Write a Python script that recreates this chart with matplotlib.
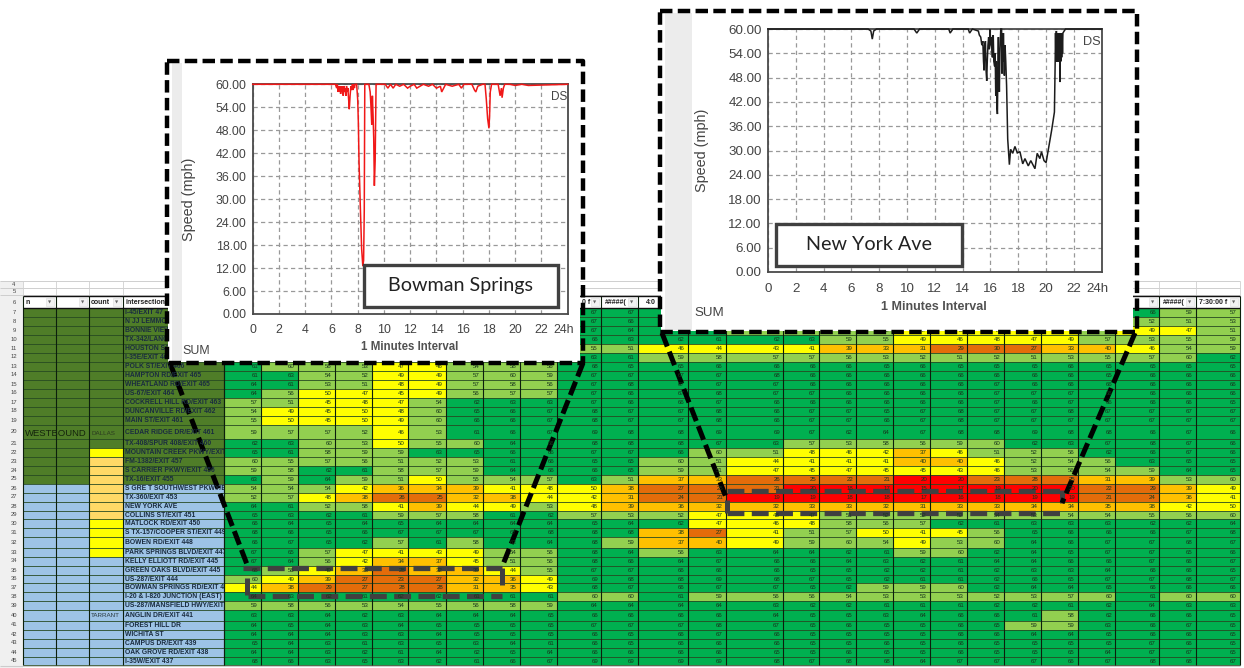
import numpy as np
import matplotlib
matplotlib.use('Agg')
import matplotlib.pyplot as plt
from matplotlib.colors import ListedColormap, BoundaryNorm
from matplotlib.patches import Rectangle
from matplotlib.transforms import ScaledTranslation

plt.rcParams['font.family'] = ['Liberation Sans', 'DejaVu Sans']

W, H = 1244, 668

# speeds per spreadsheet row, None = cell hidden behind the inset charts
hid = [None] * 9
mid = [None] * 11
r07 = hid + [67, 67, 66] + mid + [66, 59, 57]
r08 = hid + [67, 66, 65] + mid + [52, 51, 53]
r09 = hid + [67, 64, 65, 61, 60, 58, 56, 52, 47, 46, 47, 47, 49, 55, 49, 47, 51]
r10 = hid + [66, 63, 62, 61, 62, 63, 59, 55, 49, 46, 48, 47, 49, 57, 53, 55, 59]
r11 = hid + [55, 51, 46, 44, 43, 41, 39, 33, 31, 29, 30, 27, 33, 40, 46, 54, 59]
r12 = hid + [63, 61, 59, 58, 57, 57, 56, 53, 52, 51, 52, 51, 53, 55, 57, 60, 62]
r13 = [61, 60, 56, 53, 47, 46, 54, 58, 56, 68, 65, 65, 66, 66, 66, 66, 65, 66, 65, 65, 65, 66, 65, 65, 65, 65]
r14 = [61, 63, 54, 52, 49, 49, 57, 60, 59, 67, 67, 67, 67, 68, 66, 66, 66, 66, 66, 66, 66, 66, 65, 66, 66, 66]
r15 = [64, 61, 53, 51, 48, 49, 57, 58, 56, 67, 68, 67, 67, 67, 66, 66, 66, 66, 66, 67, 66, 66, 66, 66, 66, 66]
r16 = [64, 56, 50, 47, 45, 49, 56, 57, 57, 67, 66, 67, 68, 67, 67, 66, 66, 66, 66, 67, 67, 67, 66, 66, 66, 66]
r17 = [57, 51, 45, 48, 47, 54, 62, 63, 63, 67, 66, 66, 67, 66, 66, 66, 66, 66, 66, 67, 66, 67, 66, 66, 66, 65]
r18 = [54, 49, 45, 50, 48, 60, 65, 66, 67, 68, 67, 67, 68, 66, 67, 67, 65, 67, 68, 67, 67, 68, 67, 67, 67, 67]
r19 = [55, 50, 45, 50, 49, 60, 66, 66, 67, 68, 67, 67, 68, 66, 67, 67, 66, 67, 68, 67, 67, 67, 67, 67, 67, 67]
r20 = [59, 57, 57, 52, 46, 53, 61, 66, 67, 69, 68, 68, 69, 69, 67, 62, 64, 67, 68, 68, 69, 68, 68, 66, 67, 66]
r21 = [62, 63, 60, 53, 50, 55, 60, 64, 66, 68, 68, 68, 67, 63, 57, 53, 58, 56, 59, 60, 62, 63, 67, 68, 67, 66]
r22 = [65, 61, 58, 59, 59, 63, 65, 66, 66, 67, 67, 66, 60, 51, 48, 46, 42, 37, 46, 51, 52, 56, 62, 66, 67, 66]
r23 = [60, 55, 57, 56, 51, 52, 53, 61, 66, 65, 65, 60, 51, 44, 41, 41, 41, 40, 40, 46, 52, 54, 56, 63, 65, 65]
r24 = [59, 58, 62, 61, 58, 57, 59, 64, 66, 66, 65, 59, 51, 47, 45, 47, 45, 45, 43, 46, 53, 56, 54, 59, 64, 65]
r25 = [63, 59, 64, 59, 51, 50, 55, 54, 57, 63, 51, 37, 33, 26, 25, 22, 21, 20, 20, 23, 28, 25, 31, 39, 53, 60]
r26 = [54, 54, 54, 42, 36, 34, 39, 41, 48, 50, 38, 27, 25, 21, 20, 18, 17, 15, 17, 19, 20, 20, 22, 29, 39, 49]
r27 = [52, 57, 48, 38, 26, 25, 32, 38, 44, 42, 31, 24, 21, 19, 19, 18, 18, 17, 16, 18, 19, 19, 21, 24, 36, 41]
r28 = [64, 61, 52, 58, 41, 39, 44, 49, 53, 48, 39, 36, 32, 32, 33, 33, 32, 31, 33, 33, 34, 34, 35, 38, 42, 50]
r29 = [65, 63, 62, 61, 59, 57, 58, 61, 62, 57, 53, 52, 47, 48, 47, 51, 52, 52, 52, 54, 53, 54, 54, 55, 56, 60]
r30 = [66, 64, 65, 64, 65, 64, 64, 64, 64, 65, 64, 62, 47, 46, 48, 58, 56, 57, 62, 61, 63, 63, 63, 62, 62, 64]
r31 = [68, 66, 65, 66, 67, 67, 67, 67, 68, 68, 68, 38, 27, 41, 51, 57, 50, 41, 45, 56, 65, 66, 66, 66, 67, 68]
r32 = [66, 67, 65, 62, 57, 61, 58, 63, 64, 68, 59, 37, 40, 49, 59, 60, 54, 49, 53, 60, 64, 66, 67, 67, 68, 67]
r33 = [67, 65, 57, 47, 41, 43, 49, 54, 56, 68, 64, 56, 63, 64, 64, 62, 61, 59, 60, 62, 64, 65, 67, 67, 65, 66]
r34 = [67, 64, 56, 42, 34, 37, 45, 51, 56, 68, 66, 64, 67, 66, 66, 64, 63, 62, 61, 64, 64, 66, 66, 67, 66, 67]
r35 = [66, 56, 49, 33, 28, 32, 39, 44, 55, 67, 67, 66, 66, 66, 65, 65, 62, 62, 61, 62, 63, 63, 64, 66, 66, 65]
r36 = [60, 49, 39, 27, 23, 27, 32, 36, 49, 69, 68, 68, 69, 68, 67, 65, 62, 61, 61, 62, 66, 65, 67, 67, 68, 67]
r37 = [44, 38, 29, 27, 28, 28, 31, 35, 43, 68, 67, 66, 67, 67, 65, 62, 59, 59, 60, 62, 64, 64, 65, 66, 66, 66]
r38 = [64, 63, 62, 61, 62, 62, 61, 61, 61, 60, 60, 61, 59, 56, 56, 54, 53, 53, 53, 52, 53, 57, 60, 61, 60, 60]
r39 = [59, 58, 56, 53, 54, 55, 56, 58, 59, 64, 64, 64, 64, 63, 62, 62, 61, 61, 61, 62, 62, 61, 62, 64, 63, 63]
r40 = [63, 63, 64, 62, 63, 64, 64, 64, 65, 66, 66, 66, 66, 64, 65, 65, 63, 64, 66, 66, 61, 58, 62, 66, 66, 65]
r41 = [64, 65, 64, 63, 64, 65, 65, 65, 65, 67, 67, 67, 68, 67, 65, 66, 65, 65, 66, 65, 59, 59, 63, 66, 67, 65]
r42 = [64, 64, 64, 63, 63, 64, 65, 65, 65, 66, 65, 66, 67, 66, 65, 65, 65, 65, 66, 66, 64, 64, 65, 66, 66, 65]
r43 = [65, 64, 63, 61, 63, 65, 63, 64, 61, 66, 65, 66, 66, 66, 65, 65, 66, 65, 66, 65, 65, 65, 65, 67, 66, 65]
r44 = [64, 64, 63, 62, 61, 64, 62, 65, 64, 66, 66, 66, 66, 65, 65, 66, 65, 65, 66, 65, 65, 65, 64, 67, 67, 65]
r45 = [68, 66, 63, 65, 63, 62, 61, 66, 67, 69, 69, 69, 69, 68, 67, 68, 68, 64, 67, 67, 67, 66, 67, 68, 68, 67]
speeds = np.array([r07, r08, r09, r10, r11, r12, r13, r14, r15, r16, r17, r18, r19, r20, r21, r22, r23,
                   r24, r25, r26, r27, r28, r29, r30, r31, r32, r33, r34, r35, r36, r37, r38, r39, r40,
                   r41, r42, r43, r44, r45], dtype=float)

row_numbers = list(range(7, 46))
intersections = ['I-45/EXIT 47', 'N JJ LEMMON RD', 'BONNIE VIEW RD', 'TX-342/LANCASTER RD', 'HOUSTON SCHOOL RD',
                 'I-35E/EXIT 467', 'POLK ST/EXIT 466', 'HAMPTON RD/EXIT 465', 'WHEATLAND RD/EXIT 465',
                 'US-67/EXIT 464', 'COCKRELL HILL RD/EXIT 463', 'DUNCANVILLE RD/EXIT 462', 'MAIN ST/EXIT 461',
                 'CEDAR RIDGE DR/EXIT 461', 'TX-408/SPUR 408/EXIT 460', 'MOUNTAIN CREEK PKWY/EXIT 458',
                 'FM-1382/EXIT 457', 'S CARRIER PKWY/EXIT 456', 'TX-16/EXIT 455', 'S GRE T SOUTHWEST PKWY/EXIT 454',
                 'TX-360/EXIT 453', 'NEW YORK AVE', 'COLLINS ST/EXIT 451', 'MATLOCK RD/EXIT 450',
                 'S TX-157/COOPER ST/EXIT 449', 'BOWEN RD/EXIT 448', 'PARK SPRINGS BLVD/EXIT 447',
                 'KELLY ELLIOTT RD/EXIT 445', 'GREEN OAKS BLVD/EXIT 445', 'US-287/EXIT 444',
                 'BOWMAN SPRINGS RD/EXIT 443', 'I-20 & I-820 JUNCTION (EAST)', 'US-287/MANSFIELD HWY/EXIT 442',
                 'ANGLIN DR/EXIT 441', 'FOREST HILL DR', 'WICHITA ST', 'CAMPUS DR/EXIT 439', 'OAK GROVE RD/EXIT 438',
                 'I-35W/EXIT 437']
count_flags = ['n'] * 15 + ['y'] + ['o'] * 7 + ['y'] * 4 + ['b'] * 12

# speed traces
bowman_hours = [0, 3, 5.8,
                6.3, 6.4, 6.45, 6.5, 6.55, 6.6, 6.65, 6.7, 6.75, 6.8, 6.85, 6.9, 6.95, 7.0, 7.05,
                7.1, 7.15, 7.2, 7.25, 7.3, 7.36, 7.42, 7.48, 7.55, 7.6, 7.65, 7.7, 7.75, 7.8, 7.92,
                8.0, 8.05, 8.1, 8.2, 8.3, 8.39, 8.45, 8.5, 8.54, 8.6, 8.7, 8.85, 8.95, 9.0, 9.07, 9.12, 9.17, 9.22,
                9.27, 9.33, 9.4, 9.5, 10.1, 10.3, 10.5, 10.7, 10.9, 11.2, 11.5, 11.8, 12.0, 12.3, 12.5, 13.0, 13.4,
                13.7, 14.0, 14.3, 14.4, 14.7, 15.2, 15.7, 15.9, 16.1, 16.7, 16.9, 17.0, 17.15, 17.5, 17.7, 17.8,
                17.9, 18.0, 18.05, 18.1, 18.2, 18.7, 18.85, 18.95, 19.0, 19.1, 19.2, 19.6, 20.0, 20.5, 21.0, 24]
bowman_speed = [60, 60, 60,
                60, 59, 60, 58, 59.5, 58, 59.5, 57.5, 59.5, 58, 59.5, 57, 59.5, 58, 59,
                57, 59.5, 58, 59, 56.5, 53.5, 57, 59.5, 58.5, 60, 58.5, 60, 59, 60, 60,
                56, 50, 40, 28, 17, 12.5, 14, 27, 60, 60, 60, 60, 58, 55, 49.5, 57, 52, 46,
                33.5, 40, 60, 60, 60, 59, 60, 59, 60, 59.5, 60, 59, 59.5, 60, 59, 60, 59.5,
                60, 59, 59.5, 58, 60, 59.5, 60, 59, 60, 60, 58.5, 58, 59.5, 60, 60, 56,
                51, 48.5, 52, 58, 60, 60, 57, 59, 56.5, 59, 60, 60, 59.7, 60, 59.7, 60]

ny_hours = [0, 5, 7.2, 7.4, 7.5, 7.6, 7.8, 10.5, 10.7, 10.9, 13, 13.1, 13.3, 14.4, 14.5, 14.7,
            15.13, 15.2, 15.3, 15.38, 15.45, 15.5, 15.54, 15.58, 15.64, 15.68, 15.73, 15.77, 15.82, 15.87, 15.92,
            15.97, 16.02, 16.06, 16.1, 16.14, 16.2, 16.24, 16.3, 16.34, 16.38, 16.42, 16.46, 16.5, 16.54, 16.57,
            16.6, 16.64, 16.68, 16.74, 16.8, 16.83, 16.87, 16.9, 16.93, 16.97, 17.0, 17.05, 17.1, 17.16, 17.24,
            17.36, 17.45, 17.6, 17.76, 17.93, 18.12, 18.32, 18.48, 18.72, 18.9,
            19.2, 19.36, 19.55, 19.67, 19.85, 20.0, 20.2, 20.4, 20.6,
            20.65, 20.68, 20.71, 20.74, 20.77, 20.8, 20.83, 20.86, 20.89, 20.92, 20.95, 20.98, 21.0, 21.03,
            21.06, 21.09, 21.12, 21.15, 21.18, 21.21, 21.3, 21.4, 24]
ny_speed = [60, 60, 60, 59.5, 57.5, 59.5, 60, 60, 59, 60, 60, 59, 60, 60, 59, 60,
            59.5, 58.5, 58, 56, 57, 52, 49.8, 56, 57, 50, 47.2, 52, 56, 58, 55,
            60, 56, 58, 55, 53, 58.5, 52, 50.8, 54, 43.5, 52, 41, 39, 52, 58,
            50, 44.5, 54, 60, 60, 49, 57, 52, 59, 52, 48.5, 56, 52, 46, 32.8,
            26.5, 30.3, 29.3, 31, 29.4, 29.7, 26.7, 28, 26.2, 27.5,
            25.5, 29.3, 28, 29.7, 27.5, 27, 31, 35, 39.5,
            51, 59, 52, 59.5, 52, 59, 52, 59, 52, 59, 52.5, 59, 46.9, 59,
            52, 59, 53, 59, 54, 59, 59.5, 60, 60]

hour_ticks = list(range(0, 25, 2))
hour_labels = [str(h) for h in hour_ticks[:-1]] + ['24h']
speed_ticks = list(range(0, 61, 6))

# layout in image pixels
col_edges = [224, 261, 298, 335, 372, 408, 446, 483, 520, 557, 601, 638, 688, 726, 783, 819, 856, 893, 930,
             967, 1004, 1041, 1078, 1115, 1159, 1196, 1240]
row_edges = [308, 317, 326, 335, 344, 352.5, 361.5, 370.5, 379.5, 388.5, 397.5, 406.5, 415.5, 424.5, 439, 448,
             457, 465.5, 474.5, 483.5, 492.5, 501.5, 510.5, 519, 528, 537, 547.5, 556.5, 565.5, 574.5, 583, 592,
             601, 610, 620.5, 629.5, 638.5, 647.5, 656.5, 665]
left_edges = [23, 56, 89, 123, 224]

fig = plt.figure(figsize=(W / 100, H / 100), dpi=100)
sheet = fig.add_axes([0, 0, 1, 1], zorder=1)
sheet.set_xlim(0, W)
sheet.set_ylim(H, 0)
sheet.axis('off')

# heat map cells
cmap = ListedColormap(['#ff0000', '#e46c0a', '#ffc000', '#ffff00', '#92d050', '#00b050'])
norm = BoundaryNorm([0, 20.5, 30.5, 40.5, 50.5, 60.5, 100], cmap.N)
sheet.pcolormesh(col_edges, row_edges, np.ma.masked_invalid(speeds), cmap=cmap, norm=norm)

# left hand block
olive = '#4f7d28'
blue = '#9dc3e6'
flag_colors = {'n': olive, 'y': '#ffff00', 'o': '#ffd966', 'b': blue}
for i, flag in enumerate(count_flags):
    y0, y1 = row_edges[i], row_edges[i + 1]
    base = olive if i < 19 else blue
    sheet.add_patch(Rectangle((23, y0), 201, y1 - y0, fc=base, ec='none'))
    sheet.add_patch(Rectangle((89, y0), 34, y1 - y0, fc=flag_colors[flag], ec='none'))

# row numbers column and the empty rows above the header
sheet.add_patch(Rectangle((0, 281), 23, 387, fc='#f0f0f0', ec='none'))
sheet.hlines([281, 288, 295], 0, 1240, color='#c8c8c8', lw=0.6)
sheet.vlines(left_edges + col_edges[-3:], 281, 295, color='#d0d0d0', lw=0.6)
sheet.hlines(row_edges, 23, 1240, color='#274a22', lw=0.6)
sheet.vlines(left_edges + col_edges, 296, 665, color='#0c1f0c', lw=0.8)
sheet.hlines([296, 308], 23, 1240, color='#111111', lw=1.0)
sheet.hlines(665.5, 0, 1240, color='#cccccc', lw=0.8)

for num, y0, y1 in zip(row_numbers, row_edges[:-1], row_edges[1:]):
    sheet.text(14, (y0 + y1) / 2, str(num), fontsize=4.2, ha='center', va='center', color='#444444')
sheet.text(14, 284.5, '4', fontsize=4.2, ha='center', va='center', color='#444444')
sheet.text(14, 291.5, '5', fontsize=4.2, ha='center', va='center', color='#444444')
sheet.text(14, 302, '6', fontsize=4.2, ha='center', va='center', color='#444444')

# header row with filter buttons
header_cells = [(25, 'n', 55), (58, '', 88), (91, 'count', 122), (125, 'intersection', None),
                (582, '0 f', 600), (605, '#####(', 637), (646, '4:0', None),
                (1122, '0 f', 1158), (1163, '#####(', 1195), (1199, '7:30:00 f', 1239)]
for x, label, btn in header_cells:
    sheet.text(x, 302, label, fontsize=5, fontweight='bold', ha='left', va='center', color='#222222')
    if btn is not None:
        sheet.add_patch(Rectangle((btn - 9, 298), 8, 8, fc='#f2f2f2', ec='#dddddd', lw=0.4))
        sheet.text(btn - 5, 302, '\u25bc', fontsize=3, ha='center', va='center', color='#666666',
                   family='DejaVu Sans')

# intersection names, clipped to their column
name_clip = Rectangle((123, 296), 101, 370, transform=sheet.transData)
for name, y0, y1 in zip(intersections, row_edges[:-1], row_edges[1:]):
    t = sheet.text(125, (y0 + y1) / 2 + 0.3, name, fontsize=4.9, fontweight='bold', ha='left', va='center',
                   color='#1a2c40', clip_on=True)
    t.set_clip_path(name_clip)

sheet.text(25, 433, 'WESTBOUND', fontsize=6.8, ha='left', va='center', color='#14240c')
sheet.text(91, 433.5, 'DALLAS', fontsize=4.5, ha='left', va='center', color='#2a3a20')
sheet.text(91, 615.5, 'TARRANT', fontsize=4.5, ha='left', va='center', color='#2a3a40')

# speed numbers, right aligned like in the sheet
for i in range(speeds.shape[0]):
    yc = (row_edges[i] + row_edges[i + 1]) / 2 + 0.3
    for j in range(speeds.shape[1]):
        if not np.isnan(speeds[i, j]):
            sheet.text(col_edges[j + 1] - 3, yc, f'{speeds[i, j]:.0f}', fontsize=4.4, ha='right', va='center',
                       color='#17351c')

# grey dashed boxes around the congested cells
grey_dash = dict(color='#404040', lw=3.8, linestyle=(0, (3.2, 1.4)), dash_capstyle='butt')
sheet.plot([243, 502], [568, 568], **grey_dash)
sheet.plot([248, 502], [595.5, 595.5], **grey_dash)
sheet.plot([246.7, 246.7], [578, 595], color='#404040', lw=3.6, solid_capstyle='butt')
sheet.plot([501.7, 501.7], [568, 585], color='#404040', lw=3.6, solid_capstyle='butt')
sheet.plot([727, 1062], [490.5, 490.5], **grey_dash)
sheet.plot([727, 1062], [513, 513], **grey_dash)
sheet.plot([727, 727], [500, 513], color='#404040', lw=3.6, solid_capstyle='butt')
sheet.plot([1062, 1062], [490, 503], color='#404040', lw=3.6, solid_capstyle='butt')

# black dashed connectors from the charts down to the table
black_dash = dict(color='black', lw=3.6, linestyle=(0, (2.9, 1.1)), dash_capstyle='butt')
sheet.plot([170, 248], [363, 567], **black_dash)
sheet.plot([583, 502], [363, 567], **black_dash)
sheet.plot([662, 727], [333, 500], **black_dash)
sheet.plot([1135, 1062], [333, 503], **black_dash)


def px_axes(x0, y0, x1, y1, z):
    return fig.add_axes([x0 / W, 1 - y1 / H, (x1 - x0) / W, (y1 - y0) / H], zorder=z)


def draw_panel(frame, box, strip, plot_box, hours, speed, color, fs, xpad, ylabel_x, ylabel_fs, xlabel_y, sum_xy,
               label, label_box, label_fs):
    # white card, grey strip and dashed frame in sheet pixels
    cover = px_axes(0, 0, W, H, 2)
    cover.set_xlim(0, W)
    cover.set_ylim(H, 0)
    cover.axis('off')
    cover.patch.set_alpha(0)
    cover.add_patch(Rectangle((box[0], box[1]), box[2] - box[0], box[3] - box[1], fc='white', ec='none'))
    cover.add_patch(Rectangle((strip[0], box[1] + 1), strip[1] - strip[0], box[3] - box[1] - 2, fc='#ececec', ec='none'))
    x0, y0, x1, y1 = frame
    cover.plot([x0, x1, x1, x0, x0], [y0, y0, y1, y1, y0], color='black', lw=3.2,
               linestyle=(0, (2.8, 1.2)), dash_capstyle='butt', solid_joinstyle='miter')
    cover.text(sum_xy[0], sum_xy[1], 'SUM', fontsize=fs, ha='left', va='center', color='#444444')
    cover.text(ylabel_x, (plot_box[1] + plot_box[3]) / 2, 'Speed (mph)', fontsize=ylabel_fs, rotation=90,
               ha='center', va='center', color='#444444')
    cover.text((plot_box[0] + plot_box[2]) / 2 - 1, xlabel_y, '1 Minutes Interval', fontsize=fs - 0.6, ha='center',
               va='center', color='#333333', fontweight='bold', alpha=0.85)

    ax = px_axes(*plot_box, 3)
    ax.set_xlim(0, 24)
    ax.set_ylim(0, 60)
    ax.set_xticks(hour_ticks)
    ax.set_xticklabels(hour_labels)
    ax.set_yticks(speed_ticks)
    ax.set_yticklabels([f'{v:.2f}' for v in speed_ticks])
    ax.tick_params(length=0, labelsize=fs, labelcolor='#444444')
    ax.tick_params(axis='x', pad=xpad)
    ax.tick_params(axis='y', pad=4.5)
    last = ax.get_xticklabels()[-1]
    last.set_transform(last.get_transform() + ScaledTranslation(-0.04, 0, fig.dpi_scale_trans))
    ax.grid(True, color='#999999', lw=0.9, linestyle=(0, (3.4, 2.6)))
    ax.set_axisbelow(True)
    for side in ax.spines.values():
        side.set_color('#4a4a4a')
        side.set_linewidth(1.3)
    ax.plot(hours, speed, color=color, lw=1.1, clip_on=False, solid_joinstyle='miter', zorder=3)
    ax.text(23.95, 58.2, 'DS', fontsize=fs - 0.4, ha='right', va='top', color='#444444')

    # label box over the plot
    over = px_axes(0, 0, W, H, 4)
    over.set_xlim(0, W)
    over.set_ylim(H, 0)
    over.axis('off')
    over.patch.set_alpha(0)
    lx0, ly0, lx1, ly1 = label_box
    over.add_patch(Rectangle((lx0, ly0), lx1 - lx0, ly1 - ly0, fc='white', ec='#404040', lw=2.4))
    over.text((lx0 + lx1) / 2, (ly0 + ly1) / 2 - 0.5, label, fontsize=label_fs, ha='center', va='center',
              color='#222222', family='Lato')


draw_panel(frame=(167, 61, 583, 363), box=(168, 62, 580, 362), strip=(172, 182), plot_box=(252.7, 84.3, 567.7, 314),
           hours=bowman_hours, speed=bowman_speed, color='#f01818', fs=8.9, xpad=7, ylabel_x=189, ylabel_fs=10.4,
           xlabel_y=347, sum_xy=(182, 351.5), label='Bowman Springs', label_box=(364, 265, 558, 307), label_fs=14.2)
draw_panel(frame=(660, 11, 1137, 332), box=(661, 12, 1133, 331), strip=(665, 692), plot_box=(768, 29, 1101.7, 272),
           hours=ny_hours, speed=ny_speed, color='#1c1c1c', fs=9.6, xpad=8, ylabel_x=702, ylabel_fs=10.4,
           xlabel_y=307, sum_xy=(694, 313), label='New York Ave', label_box=(776, 224, 962, 266), label_fs=14.2)

fig.savefig('out.png', dpi=100)
